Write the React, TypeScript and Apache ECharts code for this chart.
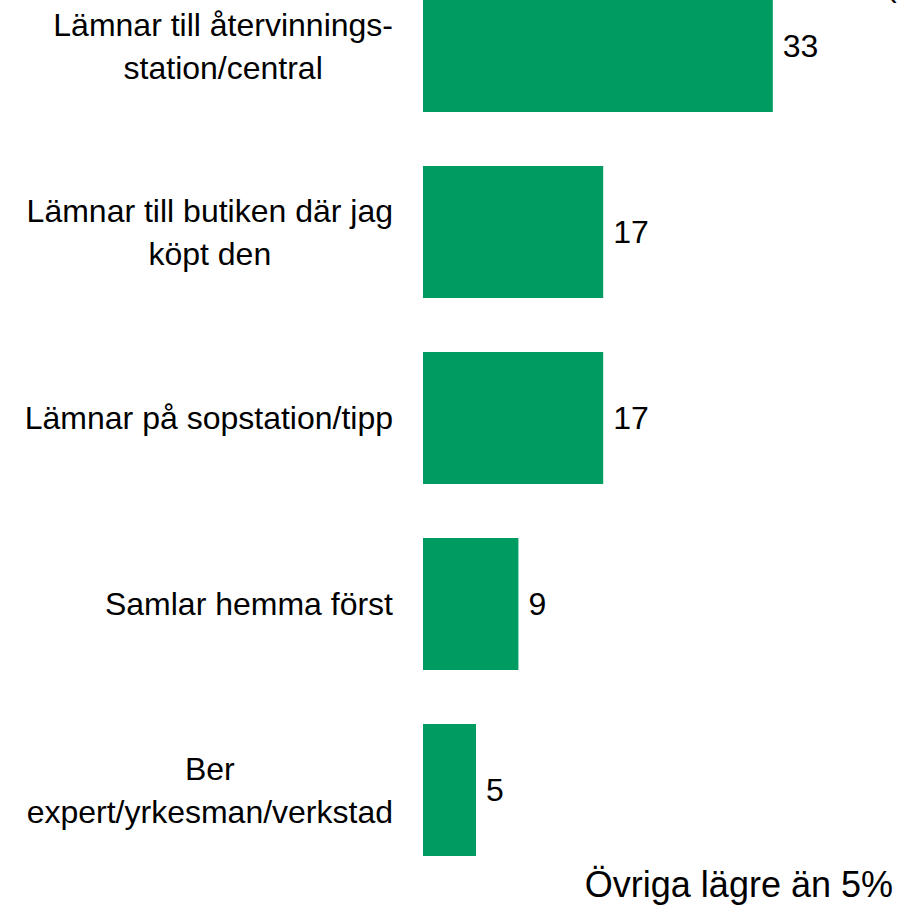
import React, { useEffect, useRef } from "react";
import * as echarts from "echarts";

const categories = [
  "Lämnar till återvinnings-\nstation/central",
  "Lämnar till butiken där jag\nköpt den",
  "Lämnar på sopstation/tipp",
  "Samlar hemma först",
  "Ber\nexpert/yrkesman/verkstad",
];
const values = [33, 17, 17, 9, 5];
const footnote = "Övriga lägre än 5%";
const topText = "(%)";

const FONT = "'Liberation Sans', Arial, Helvetica, sans-serif";
const GREEN = "#009b61";

export default function App() {
  const ref = useRef<HTMLDivElement>(null);
  useEffect(() => {
    if (!ref.current) return;
    const chart = echarts.init(ref.current, undefined, { renderer: "svg" });
    chart.setOption({
      animation: false,
      backgroundColor: "#ffffff",
      textStyle: { fontFamily: FONT },
      grid: {
        left: 423,
        top: -47,
        width: 477,
        height: 930,
        containLabel: false,
        outerBoundsMode: "none",
      },
      xAxis: {
        type: "value",
        min: 0,
        max: 45,
        show: false,
      },
      yAxis: {
        type: "category",
        data: categories,
        inverse: true,
        axisLine: { show: false },
        axisTick: { show: false },
        splitLine: { show: false },
        axisLabel: {
          fontSize: 32,
          lineHeight: 43,
          color: "#000000",
          fontFamily: FONT,
          margin: 30,
          align: "right",
          formatter: (v: string) =>
            v
              .split("\n")
              .map((l) => `{c|${l}}`)
              .join("\n"),
          rich: {
            c: {
              align: "center",
              fontSize: 32,
              lineHeight: 43,
              color: "#000000",
              fontFamily: FONT,
            },
          },
        },
      },
      series: [
        {
          type: "bar",
          data: values,
          barWidth: 132,
          itemStyle: { color: GREEN },
          label: {
            show: true,
            position: "right",
            distance: 10,
            fontSize: 32,
            color: "#000000",
            fontFamily: FONT,
          },
        },
      ],
      graphic: [
        {
          type: "text",
          right: 11,
          top: 866,
          style: {
            text: footnote,
            fontSize: 36,
            fill: "#000000",
            fontFamily: FONT,
          },
        },
        {
          type: "text",
          left: 886,
          top: -31,
          style: {
            text: topText,
            fontSize: 32,
            fill: "#000000",
            fontFamily: FONT,
          },
        },
      ],
    });
    return () => chart.dispose();
  }, []);
  return (
    <div
      ref={ref}
      style={{ position: "absolute", left: 0, top: 0, width: 904, height: 912 }}
    />
  );
}
